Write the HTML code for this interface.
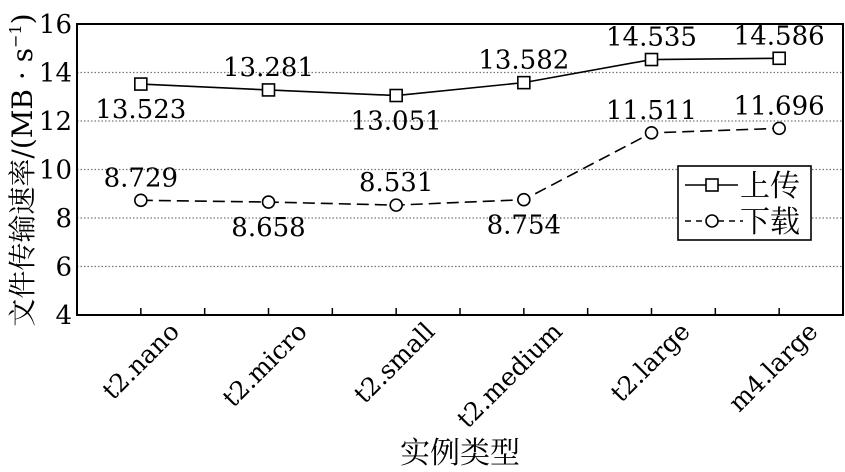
<!DOCTYPE html>
<html><head><meta charset="utf-8"><style>
body{margin:0;background:#fff}
svg{display:block}
text{font-family:"DejaVu Serif","Liberation Serif","Noto Serif CJK SC",serif}
.cjk{font-family:"DejaVu Serif","Noto Serif CJK SC",serif}
</style></head><body>
<svg id="chart" width="845" height="472"></svg>
<script>
const categories=["t2.nano","t2.micro","t2.small","t2.medium","t2.large","m4.large"];
const uploadValues=[13.523,13.281,13.051,13.582,14.535,14.586];
const downloadValues=[8.729,8.658,8.531,8.754,11.511,11.696];
const uploadLabelPos=["below","above","below","above","above","above"];
const downloadLabelPos=["above","below","above","below","above","above"];
const yTicks=[4,6,8,10,12,14,16];
const L=77,R=843,T=24,B=315,yMin=4,yMax=16;
const NS="http://www.w3.org/2000/svg";
const svg=document.getElementById('chart');
const bw=(R-L)/categories.length;
function x(i){return L+bw*(i+0.5);}
function y(v){return B-(v-yMin)/(yMax-yMin)*(B-T);}
function mk(tag,attrs,parent){const e=document.createElementNS(NS,tag);for(const k in attrs)e.setAttribute(k,attrs[k]);(parent||svg).appendChild(e);return e;}
yTicks.forEach(t=>{
 if(t>yMin&&t<yMax){const g=mk('line',{x1:L,x2:R,y1:y(t),y2:y(t),stroke:'#777','stroke-width':1.2,'stroke-dasharray':'1.5,2'});
 
 }
 const tl=mk('text',{x:L-5,y:y(t)+9,'text-anchor':'end','font-size':26});
 tl.textContent=t;
 
 
});
const fr=mk('rect',{x:L,y:T,width:R-L,height:B-T,fill:'none',stroke:'#000','stroke-width':2});


for(let k=1;k<categories.length*2;k++){
 const tx=L+bw*k/2;
 const tk=mk('line',{x1:tx,x2:tx,y1:B,y2:B-7,stroke:'#000','stroke-width':1.5});
 
 
}
categories.forEach((c,i)=>{
 const ax=x(i)+40,ay=333;
 const t=mk('text',{x:ax,y:ay,'text-anchor':'end','font-size':25,transform:`rotate(-45 ${ax} ${ay})`});
 t.textContent=c;
 
 
});
function series(vals,pos,dash,marker,name){
 const pts=vals.map((v,i)=>x(i)+','+y(v)).join(' ');
 const pl=mk('polyline',{points:pts,fill:'none',stroke:'#000','stroke-width':1.6,'stroke-dasharray':dash});
 
 
 vals.forEach((v,i)=>{
  let m;
  if(marker==='square')m=mk('rect',{x:x(i)-6,y:y(v)-6,width:12,height:12,fill:'#fff',stroke:'#000','stroke-width':1.6});
  else m=mk('circle',{cx:x(i),cy:y(v),r:6,fill:'#fff',stroke:'#000','stroke-width':1.6});
  
  
  const ly=pos[i]==='above'?y(v)-14:y(v)+34;
  const t=mk('text',{x:x(i),y:ly,'text-anchor':'middle','font-size':26});
  t.textContent=v.toFixed(3);
  
  
 });
}
series(uploadValues,uploadLabelPos,'none','square','upload');
series(downloadValues,downloadLabelPos,'12,6','circle','download');
const lg=mk('g',{});


mk('rect',{x:678,y:166,width:133,height:74,fill:'#fff',stroke:'#000','stroke-width':1.6},lg);
mk('line',{x1:685,x2:738,y1:185,y2:185,stroke:'#000','stroke-width':1.6},lg);
mk('rect',{x:706,y:179,width:12,height:12,fill:'#fff',stroke:'#000','stroke-width':1.6},lg);
mk('line',{x1:685,x2:743,y1:221,y2:221,stroke:'#000','stroke-width':1.6,'stroke-dasharray':'6,5'},lg);
mk('circle',{cx:712,cy:221,r:6,fill:'#fff',stroke:'#000','stroke-width':1.6},lg);
const l1=mk('text',{x:740,y:196,'font-size':30,class:'cjk'},lg);l1.textContent='上传';


const l2=mk('text',{x:740,y:232,'font-size':30,class:'cjk'},lg);l2.textContent='下载';


const xt=mk('text',{x:460,y:463,'text-anchor':'middle','font-size':30,class:'cjk'});xt.textContent='实例类型';


const yt=mk('text',{x:0,y:0,'text-anchor':'middle','font-size':28,class:'cjk',transform:'translate(32 170) rotate(-90)'});
yt.innerHTML='文件传输速率/(MB · s<tspan font-size="16" dy="-11">−1</tspan><tspan dy="11">)</tspan>';


</script>
</body></html>
